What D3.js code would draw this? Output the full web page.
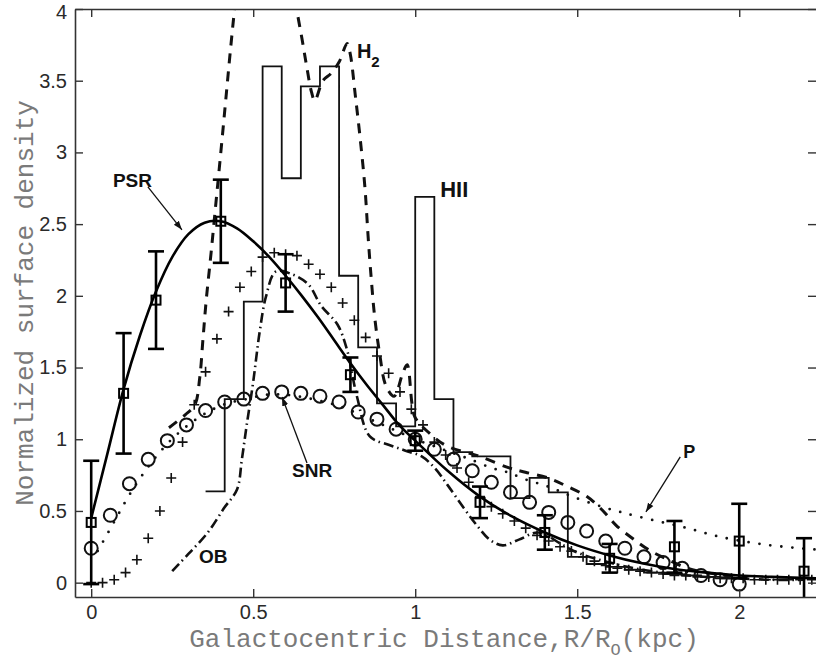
<!DOCTYPE html>
<html>
<head>
<meta charset="utf-8">
<script src="https://cdn.jsdelivr.net/npm/d3@7/dist/d3.min.js"></script>
<style>
  html, body { margin: 0; padding: 0; background: #fff; }
  svg { display: block; }
</style>
</head>
<body>
<svg id="chart" width="816" height="661"></svg>
<script>
// ---------------- DATA ----------------
const xTicks = [0, 0.5, 1, 1.5, 2];
const xTickLabels = ["0", "0.5", "1", "1.5", "2"];
const yTicks = [0, 0.5, 1, 1.5, 2, 2.5, 3, 3.5, 4];
const yTickLabels = ["0", "0.5", "1", "1.5", "2", "2.5", "3", "3.5", "4"];

// PSR model curve (solid)
const psrModelX = [0, 0.05, 0.1, 0.15, 0.2, 0.25, 0.3, 0.35, 0.4, 0.45, 0.5, 0.55, 0.6, 0.65, 0.7, 0.75, 0.8, 0.85, 0.9, 0.95, 1.0, 1.1, 1.2, 1.3, 1.4, 1.5, 1.6, 1.7, 1.8, 1.9, 2.0, 2.1, 2.25];
const psrModelY = [0.45, 0.9, 1.35, 1.72, 2.03, 2.27, 2.43, 2.51, 2.52, 2.47, 2.38, 2.27, 2.14, 2.0, 1.85, 1.69, 1.53, 1.38, 1.24, 1.1, 0.99, 0.78, 0.6, 0.46, 0.35, 0.26, 0.19, 0.135, 0.095, 0.07, 0.05, 0.04, 0.03];

// PSR binned data with error bars (squares)
const psrDataX = [0, 0.1, 0.2, 0.4, 0.6, 0.8, 1.0, 1.2, 1.4, 1.6, 1.8, 2.0, 2.2];
const psrDataY = [0.42, 1.32, 1.97, 2.52, 2.09, 1.45, 0.99, 0.56, 0.35, 0.17, 0.25, 0.29, 0.08];
const psrDataErr = [0.43, 0.42, 0.34, 0.29, 0.20, 0.12, 0.07, 0.11, 0.12, 0.10, 0.18, 0.26, 0.23];

// SNR (circles)
const snrX = [0, 0.059, 0.118, 0.176, 0.235, 0.294, 0.353, 0.412, 0.471, 0.529, 0.588, 0.647, 0.706, 0.765, 0.824, 0.882, 0.941, 1.0, 1.059, 1.118, 1.176, 1.235, 1.294, 1.353, 1.412, 1.471, 1.529, 1.588, 1.647, 1.706, 1.765, 1.824, 1.882, 1.941, 2.0];
const snrY = [0.24, 0.47, 0.69, 0.86, 0.99, 1.10, 1.20, 1.26, 1.28, 1.32, 1.33, 1.32, 1.30, 1.26, 1.19, 1.14, 1.07, 1.0, 0.93, 0.86, 0.78, 0.70, 0.63, 0.56, 0.49, 0.42, 0.36, 0.29, 0.24, 0.18, 0.14, 0.10, 0.05, 0.02, -0.01];

// Crosses (+)
const crossX = [0, 0.035, 0.071, 0.106, 0.141, 0.176, 0.212, 0.247, 0.282, 0.318, 0.353, 0.388, 0.424, 0.459, 0.494, 0.529, 0.565, 0.6, 0.635, 0.671, 0.706, 0.741, 0.776, 0.812, 0.847, 0.882, 0.918, 0.953, 0.988, 1.024, 1.059, 1.094, 1.129, 1.165, 1.2, 1.235, 1.27, 1.306, 1.341, 1.376, 1.412, 1.447, 1.482, 1.518, 1.553, 1.588, 1.624, 1.659, 1.694, 1.729, 1.765, 1.8, 1.835, 1.871, 1.906, 1.941, 1.976, 2.012, 2.047, 2.082, 2.118, 2.153, 2.188, 2.224];
const crossY = [0.0, 0.0, 0.02, 0.07, 0.16, 0.31, 0.50, 0.73, 0.98, 1.24, 1.47, 1.70, 1.89, 2.06, 2.17, 2.27, 2.30, 2.29, 2.28, 2.22, 2.15, 2.06, 1.95, 1.83, 1.71, 1.58, 1.46, 1.33, 1.21, 1.10, 0.98, 0.89, 0.80, 0.70, 0.60, 0.53, 0.48, 0.43, 0.38, 0.33, 0.29, 0.25, 0.22, 0.18, 0.15, 0.12, 0.10, 0.09, 0.08, 0.07, 0.06, 0.05, 0.05, 0.04, 0.04, 0.03, 0.03, 0.03, 0.02, 0.02, 0.02, 0.02, 0.02, 0.02];

// HII histogram (stairs): bin edges and bin values
const hiiEdges = [0.353, 0.412, 0.471, 0.529, 0.588, 0.647, 0.706, 0.765, 0.824, 0.882, 0.941, 1.0, 1.059, 1.118, 1.176, 1.235, 1.294, 1.353, 1.412, 1.471, 1.529, 1.588, 1.647, 1.706, 1.765, 1.824, 1.882, 1.941, 2.0];
const hiiValues = [0.637, 1.28, 1.96, 3.60, 2.82, 3.46, 3.60, 2.14, 1.64, 1.25, 1.09, 2.69, 1.28, 0.91, 0.88, 0.88, 0.59, 0.73, 0.63, 0.18, 0.13, 0.11, 0.09, 0.07, 0.06, 0.05, 0.04, 0.03];

// H2 (dashed)
const h2X = [0.24, 0.29, 0.32, 0.335, 0.345, 0.355, 0.37, 0.385, 0.4, 0.415, 0.43, 0.445, 0.47, 0.54, 0.6, 0.634, 0.65, 0.665, 0.68, 0.69, 0.715, 0.74, 0.765, 0.79, 0.8, 0.815, 0.83, 0.845, 0.855, 0.865, 0.875, 0.89, 0.91, 0.935, 0.96, 0.975, 0.99, 1.0, 1.05, 1.1, 1.2, 1.29, 1.34, 1.41, 1.47, 1.53, 1.58, 1.62, 1.67, 1.72, 1.78, 1.84, 1.9, 1.96, 2.02];
const h2Y = [1.08, 1.17, 1.24, 1.43, 1.70, 1.97, 2.30, 2.65, 3.0, 3.36, 3.72, 4.05, 4.5, 4.8, 4.5, 4.0, 3.8, 3.6, 3.42, 3.36, 3.5, 3.55, 3.63, 3.76, 3.68, 3.4, 3.1, 2.75, 2.4, 2.1, 1.85, 1.6, 1.37, 1.3, 1.45, 1.52, 1.25, 1.15, 1.03, 0.95, 0.88, 0.80, 0.77, 0.73, 0.67, 0.60, 0.50, 0.40, 0.31, 0.23, 0.16, 0.10, 0.07, 0.05, 0.03];

// OB (dash-dot)
const obX = [0.25, 0.30, 0.36, 0.41, 0.45, 0.465, 0.48, 0.5, 0.52, 0.54, 0.57, 0.62, 0.67, 0.71, 0.76, 0.79, 0.82, 0.86, 0.92, 0.97, 1.02, 1.06, 1.1, 1.15, 1.19, 1.23, 1.27, 1.32, 1.38, 1.45, 1.5, 1.6, 1.7, 1.8, 1.9, 2.0, 2.1, 2.2];
const obY = [0.08, 0.2, 0.35, 0.52, 0.65, 0.86, 1.1, 1.4, 1.75, 2.0, 2.17, 2.15, 2.08, 1.93, 1.8, 1.62, 1.3, 1.02, 0.96, 0.92, 0.88, 0.8, 0.68, 0.52, 0.4, 0.3, 0.26, 0.3, 0.35, 0.27, 0.21, 0.14, 0.09, 0.06, 0.04, 0.03, 0.02, 0.02];

// P (dotted)
const pX = [0.02, 0.07, 0.12, 0.18, 0.24, 0.3, 0.36, 0.42, 0.48, 0.54, 0.6, 0.66, 0.72, 0.78, 0.84, 0.9, 0.96, 1.0, 1.06, 1.12, 1.17, 1.235, 1.285, 1.34, 1.41, 1.485, 1.59, 1.69, 1.84, 1.94, 2.08, 2.24];
const pY = [0.22, 0.42, 0.62, 0.82, 0.98, 1.1, 1.19, 1.25, 1.28, 1.31, 1.31, 1.29, 1.26, 1.22, 1.16, 1.1, 1.04, 1.0, 0.95, 0.9, 0.86, 0.8, 0.77, 0.72, 0.67, 0.6, 0.52, 0.46, 0.38, 0.32, 0.265, 0.23];

// Text labels (data coordinates of label anchor)
const labelText = ["PSR", "SNR", "OB", "P", "HII"];
const labelX = [0.067, 0.62, 0.333, 1.827, 1.077];
const labelY = [2.76, 0.737, 0.138, 0.87, 2.69];
const labelSize = [19, 19, 19, 18, 22];

// Arrows: from label to curve (data coords)
const arrowFromX = [0.175, 0.666, 1.818];
const arrowFromY = [2.76, 0.835, 0.877];
const arrowToX = [0.28, 0.589, 1.712];
const arrowToY = [2.46, 1.295, 0.493];

// ---------------- CHART ----------------
(function () {
const svg = d3.select("#chart");
const pL = 75, pR = 817, pT = 9, pB = 597;

const x = d3.scaleLinear().domain([-0.05, 2.24]).range([pL, pR]);
const y = d3.scaleLinear().domain([-0.1, 4]).range([pB, pT]);

const defs = svg.append("defs");
defs.append("clipPath").attr("id", "plotclip")
  .append("rect").attr("x", pL).attr("y", pT)
  .attr("width", pR - pL).attr("height", pB - pT);

defs.append("marker").attr("id", "arrowhead")
  .attr("viewBox", "0 0 10 10").attr("refX", 10).attr("refY", 5)
  .attr("markerWidth", 9).attr("markerHeight", 9)
  .attr("markerUnits", "userSpaceOnUse")
  .attr("orient", "auto")
  .append("path").attr("d", "M0,1.5 L10,5 L0,8.5 z").attr("fill", "#111");

const plot = svg.append("g").attr("clip-path", "url(#plotclip)");

const zip = (xs, ys) => xs.map((v, i) => [v, ys[i]]);
const lineSmooth = d3.line().x(d => x(d[0])).y(d => y(d[1])).curve(d3.curveCatmullRom.alpha(0.5));
const lineStep = d3.line().x(d => x(d[0])).y(d => y(d[1])).curve(d3.curveStepAfter);

// HII histogram
const hiiPts = hiiEdges.map((e, i) => [e, i < hiiValues.length ? hiiValues[i] : hiiValues[hiiValues.length - 1]]);
plot.append("path").attr("d", lineStep(hiiPts))
  .attr("fill", "none").attr("stroke", "#111").attr("stroke-width", 1.8);

// OB dash-dot
plot.append("path").attr("d", lineSmooth(zip(obX, obY)))
  .attr("fill", "none").attr("stroke", "#111").attr("stroke-width", 2.6)
  .attr("stroke-dasharray", "10,4,1.5,4");

// H2 dashed
plot.append("path").attr("d", lineSmooth(zip(h2X, h2Y)))
  .attr("fill", "none").attr("stroke", "#111").attr("stroke-width", 3)
  .attr("stroke-dasharray", "10,8");

// P dotted
plot.append("path").attr("d", lineSmooth(zip(pX, pY)))
  .attr("fill", "none").attr("stroke", "#111").attr("stroke-width", 2.8)
  .attr("stroke-linecap", "round")
  .attr("stroke-dasharray", "0,11");

// crosses
plot.append("g").selectAll("path").data(zip(crossX, crossY)).join("path")
  .attr("transform", d => `translate(${x(d[0])},${y(d[1])})`)
  .attr("d", "M-5,0H5M0,-5V5")
  .attr("stroke", "#111").attr("stroke-width", 1.6).attr("fill", "none");

// SNR circles
plot.append("g").selectAll("circle").data(zip(snrX, snrY)).join("circle")
  .attr("cx", d => x(d[0])).attr("cy", d => y(d[1])).attr("r", 6.5)
  .attr("fill", "none").attr("stroke", "#111").attr("stroke-width", 2);

// PSR model curve
plot.append("path").attr("d", lineSmooth(zip(psrModelX, psrModelY)))
  .attr("fill", "none").attr("stroke", "#000").attr("stroke-width", 2.6);

// PSR data with error bars
const eb = plot.append("g").selectAll("g")
  .data(psrDataX.map((v, i) => ({ x: v, y: psrDataY[i], e: psrDataErr[i] })))
  .join("g");
eb.append("line")
  .attr("x1", d => x(d.x)).attr("x2", d => x(d.x))
  .attr("y1", d => y(d.y - d.e)).attr("y2", d => y(d.y + d.e))
  .attr("stroke", "#000").attr("stroke-width", 2.6);
eb.append("line")
  .attr("x1", d => x(d.x) - 8).attr("x2", d => x(d.x) + 8)
  .attr("y1", d => y(d.y + d.e)).attr("y2", d => y(d.y + d.e))
  .attr("stroke", "#000").attr("stroke-width", 2.6);
eb.append("line")
  .attr("x1", d => x(d.x) - 8).attr("x2", d => x(d.x) + 8)
  .attr("y1", d => y(d.y - d.e)).attr("y2", d => y(d.y - d.e))
  .attr("stroke", "#000").attr("stroke-width", 2.6);
eb.append("rect")
  .attr("x", d => x(d.x) - 4.5).attr("y", d => y(d.y) - 4.5)
  .attr("width", 9).attr("height", 9)
  .attr("fill", "none").attr("stroke", "#000").attr("stroke-width", 2);

// ---------------- AXES ----------------
const axisColor = "#333";
const gx = svg.append("g").attr("transform", `translate(0,${pB})`)
  .call(d3.axisBottom(x).tickValues(xTicks).tickFormat((d, i) => xTickLabels[i])
    .tickSize(-8).tickSizeOuter(0).tickPadding(8));
const gxt = svg.append("g").attr("transform", `translate(0,${pT})`)
  .call(d3.axisTop(x).tickValues(xTicks).tickFormat("").tickSize(-8).tickSizeOuter(0));
const gy = svg.append("g").attr("transform", `translate(${pL},0)`)
  .call(d3.axisLeft(y).tickValues(yTicks).tickFormat((d, i) => yTickLabels[i])
    .tickSize(-8).tickSizeOuter(0).tickPadding(8));
const gyr = svg.append("g").attr("transform", `translate(${pR},0)`)
  .call(d3.axisRight(y).tickValues(yTicks).tickFormat("").tickSize(-9).tickSizeOuter(0));

[gx, gxt, gy, gyr].forEach(g => {
  g.select(".domain").attr("stroke", axisColor).attr("stroke-width", 1.6);
  g.selectAll(".tick line").attr("stroke", axisColor).attr("stroke-width", 1.4);
  g.selectAll(".tick text").attr("fill", "#2a2a2a")
    .style("font-family", "'Liberation Sans', Arial, sans-serif").style("font-size", "20px");
});
// keep the top tick label ("4") inside the picture edge
gy.selectAll(".tick text").filter(d => d === 4).attr("y", 3);

// axis titles
const xt = svg.append("text")
  .attr("x", 444).attr("y", 647)
  .attr("text-anchor", "middle")
  .attr("fill", "#7a7a7a")
  .style("font-family", "'Liberation Mono', 'DejaVu Sans Mono', monospace")
  .style("font-size", "26px");
xt.append("tspan").text("Galactocentric Distance,R/R");
xt.append("tspan").attr("dy", 8).style("font-size", "17px").text("O");
xt.append("tspan").attr("dy", -8).text("(kpc)");

svg.append("text")
  .attr("transform", "translate(33,303) rotate(-90)")
  .attr("text-anchor", "middle")
  .attr("fill", "#7a7a7a")
  .style("font-family", "'Liberation Mono', 'DejaVu Sans Mono', monospace")
  .style("font-size", "26px")
  .text("Normalized surface density");

// ---------------- ANNOTATIONS ----------------
const ann = svg.append("g");
ann.selectAll("line").data(arrowFromX.map((v, i) => i)).join("line")
  .attr("x1", i => x(arrowFromX[i])).attr("y1", i => y(arrowFromY[i]))
  .attr("x2", i => x(arrowToX[i])).attr("y2", i => y(arrowToY[i]))
  .attr("stroke", "#111").attr("stroke-width", 1.3)
  .attr("marker-end", "url(#arrowhead)");

ann.selectAll("text.lbl").data(labelText.map((t, i) => i)).join("text")
  .attr("class", "lbl")
  .attr("x", i => x(labelX[i])).attr("y", i => y(labelY[i]))
  .attr("fill", "#111")
  .style("font-family", "'Liberation Sans', Arial, sans-serif")
  .style("font-weight", "bold")
  .style("font-size", i => labelSize[i] + "px")
  .text(i => labelText[i]);

// H2 label with subscript
const h2t = ann.append("text")
  .attr("x", x(0.82)).attr("y", y(3.66))
  .attr("fill", "#111")
  .style("font-family", "'Liberation Sans', Arial, sans-serif")
  .style("font-weight", "bold")
  .style("font-size", "20px");
h2t.append("tspan").text("H");
h2t.append("tspan").attr("dy", 9).style("font-size", "15px").text("2");
})();
</script>
</body>
</html>
